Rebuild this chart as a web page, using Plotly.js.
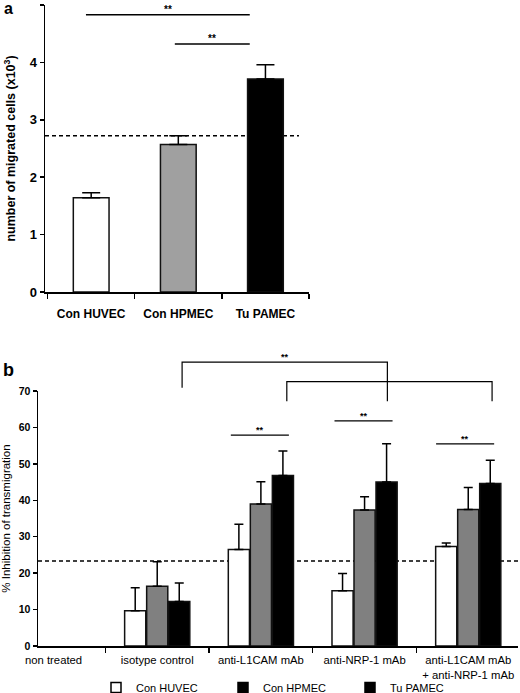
<!DOCTYPE html>
<html><head><meta charset="utf-8">
<script src="https://cdn.plot.ly/plotly-3.0.1.min.js"></script>
<style>html,body{margin:0;padding:0;background:#fff;overflow:hidden}#wrap{width:520px;height:693px;overflow:hidden}</style>
</head><body><div id="wrap"><div id="chart"></div></div>
<script>
// ---------- Panel a data ----------
const catsA = ['Con HUVEC', 'Con HPMEC', 'Tu PAMEC'];
const valsA = [1.64, 2.57, 3.71];
const errA = [0.09, 0.15, 0.25];
const colorsA = ['#ffffff', '#a0a0a0', '#000000'];
const refLineA = 2.72;
const sigAx0 = [-0.06, 0.96];
const sigAx1 = [1.82, 1.82];
const sigAy = [4.83, 4.32];
const sigAlabel = ['**', '**'];

// ---------- Panel b data ----------
const catsB = ['non treated', 'isotype control', 'anti-L1CAM mAb', 'anti-NRP-1 mAb', 'anti-L1CAM mAb<br>+ anti-NRP-1 mAb'];
const seriesNames = ['Con HUVEC', 'Con HPMEC', 'Tu PAMEC'];
const huvecB = [null, 9.7, 26.5, 15.2, 27.3];
const huvecErrB = [null, 6.3, 6.9, 4.7, 1.0];
const hpmecB = [null, 16.4, 39.0, 37.3, 37.5];
const hpmecErrB = [null, 6.7, 6.1, 3.7, 6.0];
const pamecB = [null, 12.2, 46.8, 45.0, 44.6];
const pamecErrB = [null, 5.1, 6.7, 10.5, 6.4];
const colorsB = ['#ffffff', '#808080', '#000000'];
const legendColorsB = ['#ffffff', '#000000', '#000000'];
const refLineB = 23.3;
const yRangeB = [0, 70];
const sigBx0 = [1.71, 2.71, 3.69];
const sigBx1 = [2.27, 3.27, 4.25];
const sigBy = [57.9, 61.8, 55.5];
const bracketX0 = [1.24, 2.25];
const bracketX1 = [3.22, 4.23];
const bracketTop = [77.9, 72.6];
const bracketLeftEnd = [70.9, 67.2];
const bracketRightEnd = [67.2, 67.2];
const bracketLabel = ['**', ''];

const FONT = 'Arial, "Liberation Sans", sans-serif';
const BLACK = '#000000';
const W = 520, H = 702; // figure slightly taller than the 693px window so the legend sits at the bottom edge

const traces = [];
traces.push({
  type: 'bar', x: catsA, y: valsA, xaxis: 'x', yaxis: 'y', width: 0.41,
  marker: {color: colorsA, line: {color: '#111', width: 1.5}},
  error_y: {type: 'data', array: errA, arrayminus: errA.map(() => 0), symmetric: false,
            color: BLACK, thickness: 1.5, width: 9},
  showlegend: false, hoverinfo: 'skip'
});
const seriesB = [huvecB, hpmecB, pamecB];
const errsB = [huvecErrB, hpmecErrB, pamecErrB];
seriesB.forEach((s, i) => {
  traces.push({
    type: 'bar', x: catsB, y: s, xaxis: 'x2', yaxis: 'y2', name: seriesNames[i],
    marker: {color: colorsB[i], line: {color: '#111', width: 1.5}},
    error_y: {type: 'data', array: errsB[i], arrayminus: errsB[i].map(v => v === null ? null : 0), symmetric: false,
              color: BLACK, thickness: 1.5, width: 4.5},
    showlegend: false, hoverinfo: 'skip'
  });
});
seriesNames.forEach((n, i) => {
  traces.push({
    type: 'scatter', mode: 'markers', x: [null], y: [null], xaxis: 'x2', yaxis: 'y2', name: n,
    marker: {symbol: 'square', size: 10, color: legendColorsB[i], line: {color: BLACK, width: 1.5}},
    showlegend: true, hoverinfo: 'skip'
  });
});

const shapes = [];
const annotations = [];
shapes.push({type: 'line', xref: 'x domain', yref: 'y', x0: 0, x1: 0.962, y0: refLineA, y1: refLineA,
  line: {color: BLACK, width: 1.5, dash: '4px,3px'}, layer: 'below'});
sigAy.forEach((y, i) => {
  shapes.push({type: 'line', xref: 'x', yref: 'y', x0: sigAx0[i], x1: sigAx1[i], y0: y, y1: y,
    line: {color: BLACK, width: 1.5}});
  annotations.push({xref: 'x', yref: 'y', x: (sigAx0[i] + sigAx1[i]) / 2, y: y, text: '<b>' + sigAlabel[i] + '</b>',
    showarrow: false, yanchor: 'bottom', yshift: -2, font: {family: FONT, size: 10, color: BLACK}});
});
shapes.push({type: 'line', xref: 'x2 domain', yref: 'y2', x0: 0, x1: 1, y0: refLineB, y1: refLineB,
  line: {color: BLACK, width: 1.5, dash: '4px,3px'}, layer: 'below'});
sigBy.forEach((y, i) => {
  shapes.push({type: 'line', xref: 'x2', yref: 'y2', x0: sigBx0[i], x1: sigBx1[i], y0: y, y1: y,
    line: {color: BLACK, width: 1.2}});
  annotations.push({xref: 'x2', yref: 'y2', x: (sigBx0[i] + sigBx1[i]) / 2, y: y, text: '<b>**</b>',
    showarrow: false, yanchor: 'bottom', yshift: -2, font: {family: FONT, size: 9, color: BLACK}});
});
const fB = v => (v - yRangeB[0]) / (yRangeB[1] - yRangeB[0]);
bracketTop.forEach((t, i) => {
  shapes.push({type: 'path', xref: 'x2', yref: 'y2 domain',
    path: 'M' + bracketX0[i] + ',' + fB(bracketLeftEnd[i]) + ' L' + bracketX0[i] + ',' + fB(t) +
          ' L' + bracketX1[i] + ',' + fB(t) + ' L' + bracketX1[i] + ',' + fB(bracketRightEnd[i]),
    line: {color: BLACK, width: 1.2}});
  if (bracketLabel[i]) {
    annotations.push({xref: 'x2', yref: 'y2 domain', x: (bracketX0[i] + bracketX1[i]) / 2, y: fB(t),
      text: '<b>' + bracketLabel[i] + '</b>', showarrow: false, yanchor: 'bottom', yshift: -2,
      font: {family: FONT, size: 9, color: BLACK}});
  }
});
annotations.push({xref: 'paper', yref: 'paper', x: 0.004, y: 1.0, xanchor: 'left', yanchor: 'top',
  text: '<b>a</b>', showarrow: false, font: {family: FONT, size: 16, color: BLACK}, yshift: 2});
annotations.push({xref: 'paper', yref: 'paper', x: 0.002, y: 1 - 358 / H, xanchor: 'left', yanchor: 'top',
  text: '<b>b</b>', showarrow: false, font: {family: FONT, size: 18, color: BLACK}});

const axCommon = {showgrid: false, zeroline: false, showline: true, linecolor: BLACK, linewidth: 1.5,
  ticks: 'outside', ticklen: 5, tickwidth: 1.5, tickcolor: BLACK, automargin: false};

const layout = {
  width: W, height: H,
  margin: {l: 0, r: 0, t: 0, b: 0},
  paper_bgcolor: '#ffffff', plot_bgcolor: 'rgba(0,0,0,0)',
  font: {family: FONT, color: BLACK},
  barmode: 'group', bargap: 0.363, bargroupgap: 0.04,
  xaxis: Object.assign({}, axCommon, {
    domain: [45 / W, 309 / W], anchor: 'y', type: 'category', range: [-0.53, 2.5],
    tickson: 'boundaries', ticklabelstandoff: 10,
    tickfont: {family: FONT, size: 12, weight: 'bold', color: BLACK}
  }),
  yaxis: Object.assign({}, axCommon, {
    domain: [1 - 292 / H, 1 - 5 / H], anchor: 'x', range: [0, 5], dtick: 1, ticklen: 4,
    tickfont: {family: FONT, size: 13, weight: 'bold', color: BLACK},
    title: {text: 'number of migrated cells (x10<sup>3</sup>)', standoff: 11,
            font: {family: FONT, size: 12.5, weight: 'bold', color: BLACK}}
  }),
  xaxis2: Object.assign({}, axCommon, {
    domain: [38 / W, 518 / W], anchor: 'y2', type: 'category', range: [-0.15, 4.48],
    tickson: 'boundaries', ticklabelstandoff: 3,
    tickfont: {family: FONT, size: 11.3, color: BLACK}
  }),
  yaxis2: Object.assign({}, axCommon, {
    domain: [1 - 646 / H, 1 - 391 / H], anchor: 'x2', range: yRangeB, dtick: 10, ticklen: 4,
    tickfont: {family: FONT, size: 10.5, weight: 'bold', color: BLACK},
    title: {text: '% Inhibition of transmigration', standoff: 11,
            font: {family: FONT, size: 11.5, color: BLACK}}
  }),
  legend: {orientation: 'h', x: 96 / W, y: 0, xanchor: 'left', yanchor: 'bottom',
    font: {family: FONT, size: 11, color: BLACK}, bgcolor: 'rgba(0,0,0,0)', borderwidth: 0,
    entrywidth: 82, entrywidthmode: 'pixels', tracegroupgap: 0, itemwidth: 30},
  shapes: shapes,
  annotations: annotations
};

Plotly.newPlot('chart', traces, layout, {displayModeBar: false, staticPlot: true});
</script>
</body></html>
